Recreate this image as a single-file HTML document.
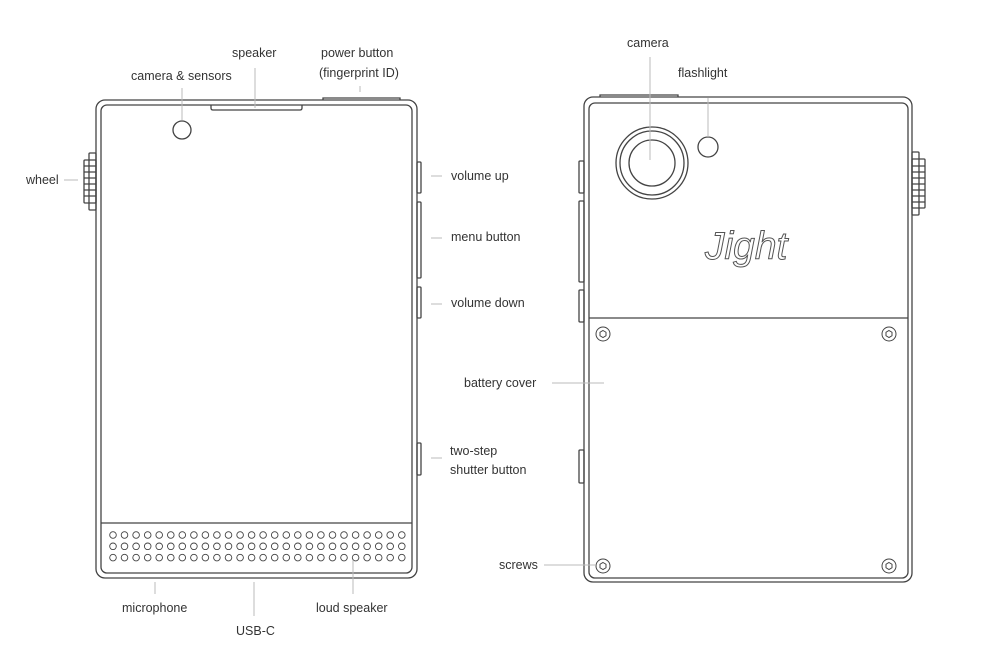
<!DOCTYPE html>
<html><head><meta charset="utf-8"><style>
html,body{margin:0;padding:0;background:#fff;width:1000px;height:665px;overflow:hidden}
text{font-family:"Liberation Sans",sans-serif;font-size:12.5px;fill:#333}
</style></head><body>
<svg width="1000" height="665" viewBox="0 0 1000 665" xmlns="http://www.w3.org/2000/svg">
<g fill="none" stroke="#444" stroke-width="1.3">
<rect x="96" y="100" width="321" height="478" rx="9"/>
<rect x="101" y="105" width="311" height="468" rx="6"/>
<path d="M211 105 v3 q0 2 2 2 h87 q2 0 2 -2 v-3"/>
<circle cx="182" cy="130" r="9"/>
<path d="M323 100 v-2 h77 v2"/>
<line x1="101" y1="523" x2="412" y2="523"/>
<rect x="89" y="153" width="7" height="57" rx="1"/>
<rect x="84" y="160" width="12" height="43" rx="1"/>
<path d="M84 166 h12 M84 172 h12 M84 178 h12 M84 184 h12 M84 190 h12 M84 196 h12"/>
<rect x="417" y="162" width="4" height="31" rx="1"/>
<rect x="417" y="202" width="4" height="76" rx="1"/>
<rect x="417" y="287" width="4" height="31" rx="1"/>
<rect x="417" y="443" width="4" height="32" rx="1"/>
<rect x="584" y="97" width="328" height="485" rx="9"/>
<rect x="589" y="103" width="319" height="475" rx="6"/>
<path d="M600 97 v-2 h78 v2"/>
<line x1="589" y1="318" x2="908" y2="318"/>
<circle cx="652" cy="163" r="36"/>
<circle cx="652" cy="163" r="32"/>
<circle cx="652" cy="163" r="23"/>
<circle cx="708" cy="147" r="10"/>
<rect x="579" y="161" width="5" height="32" rx="1"/>
<rect x="579" y="201" width="5" height="81" rx="1"/>
<rect x="579" y="290" width="5" height="32" rx="1"/>
<rect x="579" y="450" width="5" height="33" rx="1"/>
<rect x="912" y="152" width="7" height="63" rx="1"/>
<rect x="912" y="159" width="13" height="49" rx="1"/>
<path d="M912 166 h13 M912 172 h13 M912 178 h13 M912 184 h13 M912 190 h13 M912 196 h13 M912 202 h13"/>
</g>
<g fill="none" stroke="#444" stroke-width="1">
<circle cx="603" cy="334" r="7"/><path d="M603 330.5 l3 1.75 v3.5 l-3 1.75 l-3 -1.75 v-3.5z"/>
<circle cx="889" cy="334" r="7"/><path d="M889 330.5 l3 1.75 v3.5 l-3 1.75 l-3 -1.75 v-3.5z"/>
<circle cx="603" cy="566" r="7"/><path d="M603 562.5 l3 1.75 v3.5 l-3 1.75 l-3 -1.75 v-3.5z"/>
<circle cx="889" cy="566" r="7"/><path d="M889 562.5 l3 1.75 v3.5 l-3 1.75 l-3 -1.75 v-3.5z"/>
</g>
<g id="dots" fill="none" stroke="#444" stroke-width="0.9"></g>
<g stroke="#bbb" stroke-width="1">
<line x1="182" y1="88" x2="182" y2="120"/>
<line x1="255" y1="68" x2="255" y2="108"/>
<line x1="360" y1="86" x2="360" y2="92"/>
<line x1="64" y1="180" x2="78" y2="180"/>
<line x1="431" y1="176" x2="442" y2="176"/>
<line x1="431" y1="238" x2="442" y2="238"/>
<line x1="431" y1="304" x2="442" y2="304"/>
<line x1="431" y1="458" x2="442" y2="458"/>
<line x1="155" y1="582" x2="155" y2="594"/>
<line x1="254" y1="582" x2="254" y2="616"/>
<line x1="353" y1="560" x2="353" y2="594"/>
<line x1="650" y1="57" x2="650" y2="160"/>
<line x1="708" y1="98" x2="708" y2="137"/>
<line x1="552" y1="383" x2="604" y2="383"/>
<line x1="544" y1="565" x2="596" y2="565"/>
</g>
<text x="131" y="80">camera &amp; sensors</text>
<text x="232" y="57">speaker</text>
<text x="321" y="57">power button</text>
<text x="319" y="77">(fingerprint ID)</text>
<text x="26" y="184">wheel</text>
<text x="451" y="180">volume up</text>
<text x="451" y="241">menu button</text>
<text x="451" y="307">volume down</text>
<text x="464" y="387">battery cover</text>
<text x="450" y="455">two-step</text>
<text x="450" y="474">shutter button</text>
<text x="122" y="612">microphone</text>
<text x="236" y="635">USB-C</text>
<text x="316" y="612">loud speaker</text>
<text x="627" y="47">camera</text>
<text x="678" y="77">flashlight</text>
<text x="499" y="569">screws</text>
<text x="705" y="259" style="font-size:39px;font-style:italic;fill:#fff;stroke:#555;stroke-width:1">Jight</text>
</svg>
<script>
var g=document.getElementById('dots'),s='';
for(var r=0;r<3;r++)for(var c=0;c<26;c++){s+='<circle cx="'+(113+c*11.55).toFixed(1)+'" cy="'+(535+r*11.3).toFixed(1)+'" r="3.3"/>';}
g.innerHTML=s;
</script>
</body></html>
